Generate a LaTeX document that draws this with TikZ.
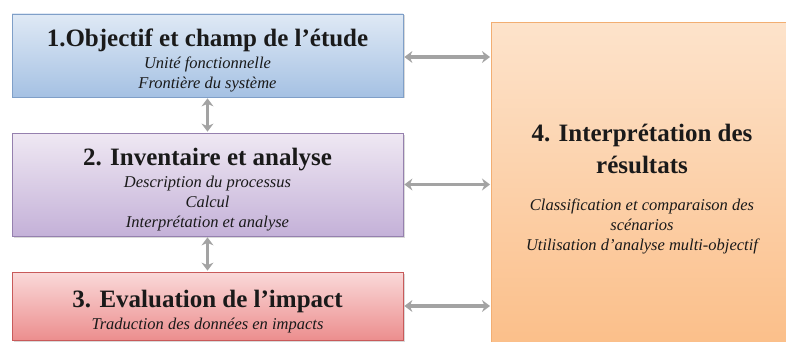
\documentclass[tikz,border=0pt]{standalone}
\usepackage{fontspec}
\setmainfont{Liberation Serif}
\usetikzlibrary{arrows.meta,positioning,shadows,calc}
\definecolor{bluetop}{HTML}{DFE9F5}
\definecolor{bluebot}{HTML}{A5C1E3}
\definecolor{blueline}{HTML}{7F9FC8}
\definecolor{purptop}{HTML}{EFE8F3}
\definecolor{purpbot}{HTML}{C4B1D8}
\definecolor{purpline}{HTML}{9580AE}
\definecolor{redtop}{HTML}{FAD9D9}
\definecolor{redbot}{HTML}{EC8E8E}
\definecolor{redline}{HTML}{C85A5A}
\definecolor{orgtop}{HTML}{FDE3CB}
\definecolor{orgbot}{HTML}{FBBD86}
\definecolor{orgline}{HTML}{F2AE72}
\definecolor{arrowgray}{HTML}{A3A3A3}
\definecolor{textdark}{HTML}{1A1A1A}

\tikzset{
  stage/.style={draw, line width=0.8pt, align=center, text=textdark,
    font=\fontsize{16.5}{20}\selectfont,
    drop shadow={shadow xshift=1.5pt, shadow yshift=-1.5pt, opacity=0.3}},
  biarrow/.style={{Stealth[length=8pt,width=12pt]}-{Stealth[length=8pt,width=12pt]},
    line width=3.4pt, arrowgray, shorten >=1pt, shorten <=1pt}
}
% title line, with a strut that pushes the block a little lower in its box
\newcommand{\titleline}[1]{{\fontsize{25}{28}\selectfont\bfseries\rule{0pt}{28pt}#1}}
\newcommand{\subline}[1]{{\fontsize{16.5}{20}\selectfont\itshape #1}}

\begin{document}
\begin{tikzpicture}[x=1pt, y=-1pt]
  \useasboundingbox (0,0) rectangle (786,342);
  \clip (0,0) rectangle (786,342);
  % --- the three stages ---
  \node[stage, draw=blueline, top color=bluetop, bottom color=bluebot,
    minimum width=391pt, minimum height=83pt] (objectif) at (207.5,55.5)
    {\titleline{1.Objectif et champ de l'étude}\\[2pt]
     \subline{Unité fonctionnelle}\\ \subline{Frontière du système}};
  \node[stage, draw=purpline, top color=purptop, bottom color=purpbot,
    minimum width=391pt, minimum height=103pt] (inventaire) at (207.5,184.5)
    {\titleline{2. Inventaire et analyse}\\[2pt]
     \subline{Description du processus}\\ \subline{Calcul}\\
     \subline{Interprétation et analyse}};
  \node[stage, draw=redline, top color=redtop, bottom color=redbot,
    minimum width=391pt, minimum height=68pt] (impact) at (207.5,306)
    {\titleline{3. Evaluation de l'impact}\\[2pt]
     \subline{Traduction des données en impacts}};
  % --- the interpretation block (runs off the page) ---
  \node[stage, draw=orgline, top color=orgtop, bottom color=orgbot,
    minimum width=320pt, minimum height=340pt, anchor=north west] (interp) at (491,22) {};
  \node[align=center, text=textdark, font=\fontsize{16.5}{20}\selectfont] (interptext) at (642,189)
    {{\fontsize{25}{28}\selectfont\bfseries 4. Interprétation des}\\[8pt]
     {\fontsize{25}{28}\selectfont\bfseries résultats}\\[17pt]
     \subline{Classification et comparaison des}\\ \subline{scénarios}\\
     \subline{Utilisation d'analyse multi-objectif}};
  % --- links ---
  \draw[biarrow] (objectif.south) -- (inventaire.north);
  \draw[biarrow] (inventaire.south) -- (impact.north);
  \draw[biarrow] ([yshift=-1.5pt]objectif.east) -- ([yshift=-1.5pt]objectif.east -| interp.west);
  \draw[biarrow] (inventaire.east) -- (inventaire.east -| interp.west);
  \draw[biarrow] (impact.east) -- (impact.east -| interp.west);
\end{tikzpicture}
\end{document}
